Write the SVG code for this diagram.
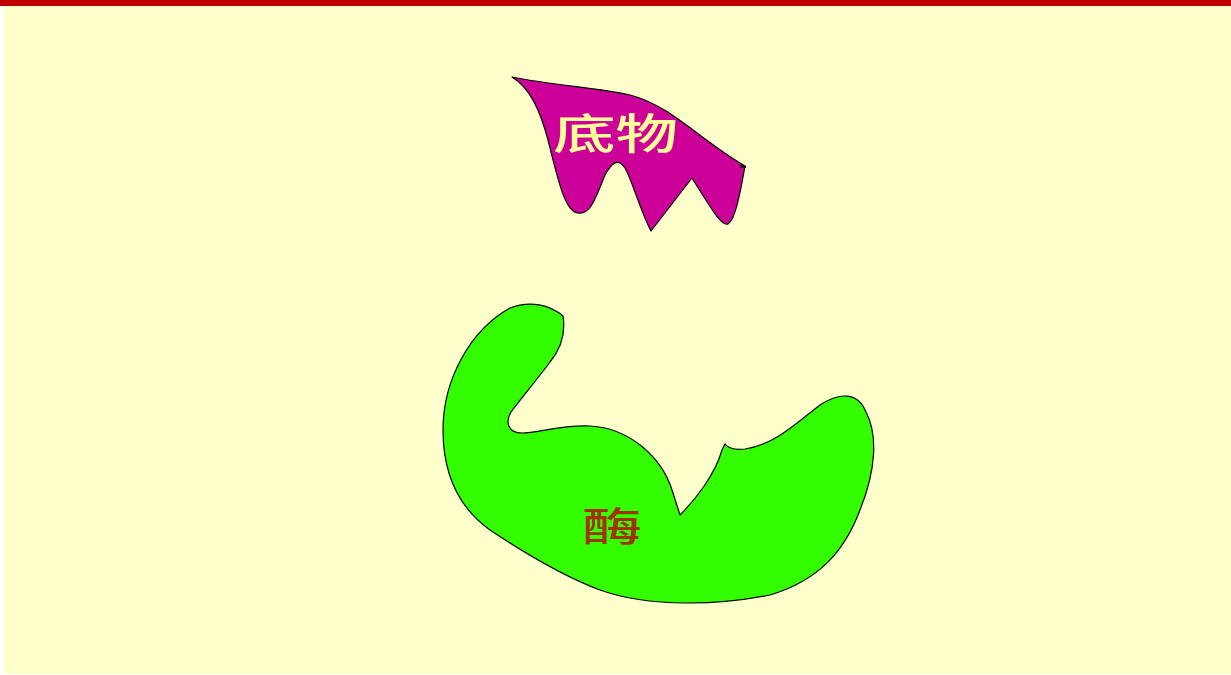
<svg xmlns="http://www.w3.org/2000/svg" width="1231" height="675" viewBox="0 0 1231 675">
  <style>
    .shape { stroke: #000000; stroke-width: 1.2; stroke-linejoin: round; }
    .label { font-family: "Noto Sans CJK SC", "Noto Sans CJK TC", sans-serif; font-weight: 500; }
  </style>
  <!-- page -->
  <rect x="0" y="0" width="1231" height="675" fill="#FFFFFF"/>
  <rect x="4" y="0" width="1227" height="674" fill="#FFFFCC"/>
  <rect x="0" y="0" width="1231" height="6" fill="#C00000"/>

  <!-- substrate -->
  <g id="substrate">
    <path class="shape" fill="#CC0099" d="M 512 77
      C 550 85, 600 88, 630 95
      C 670 105, 700 140, 745 166
      C 740 195, 735 220, 728 224
      C 722 226, 715 215, 692 178
      L 651 231
      C 640 210, 632 180, 625 168
      C 618 158, 612 162, 605 175
      C 595 200, 590 215, 578 213
      C 565 212, 558 180, 548 140
      C 540 110, 530 88, 512 77 Z"/>
    <path d="M 740 166 L 746 167" stroke="#000000" stroke-width="2.2" fill="none"/>
    <text class="label" x="553" y="149" font-size="42" fill="#FFFF99" textLength="125" lengthAdjust="spacingAndGlyphs">底物</text>
  </g>

  <!-- enzyme -->
  <g id="enzyme">
    <path class="shape" fill="#33FF00" d="M 563 316
      C 566 335, 560 350, 550 362
      C 535 382, 520 400, 511 412
      C 505 422, 508 433, 522 433
      C 537 433, 560 425, 590 426
      C 630 428, 662 458, 672 490
      L 680 515
      C 695 500, 715 475, 722 450
      L 725 444
      C 728 448, 735 450, 745 449
      C 775 445, 800 420, 820 405
      C 840 392, 858 392, 866 412
      C 878 435, 876 470, 860 510
      C 845 550, 820 580, 770 595
      C 720 605, 650 608, 600 590
      C 560 575, 520 550, 490 530
      C 455 505, 443 470, 443 430
      C 443 380, 470 330, 510 308
      C 530 300, 550 305, 563 316 Z"/>
    <text class="label" x="582" y="541" font-size="40" fill="#A33200" textLength="60" lengthAdjust="spacingAndGlyphs">酶</text>
  </g>

  <g id="connectors"/>
</svg>
